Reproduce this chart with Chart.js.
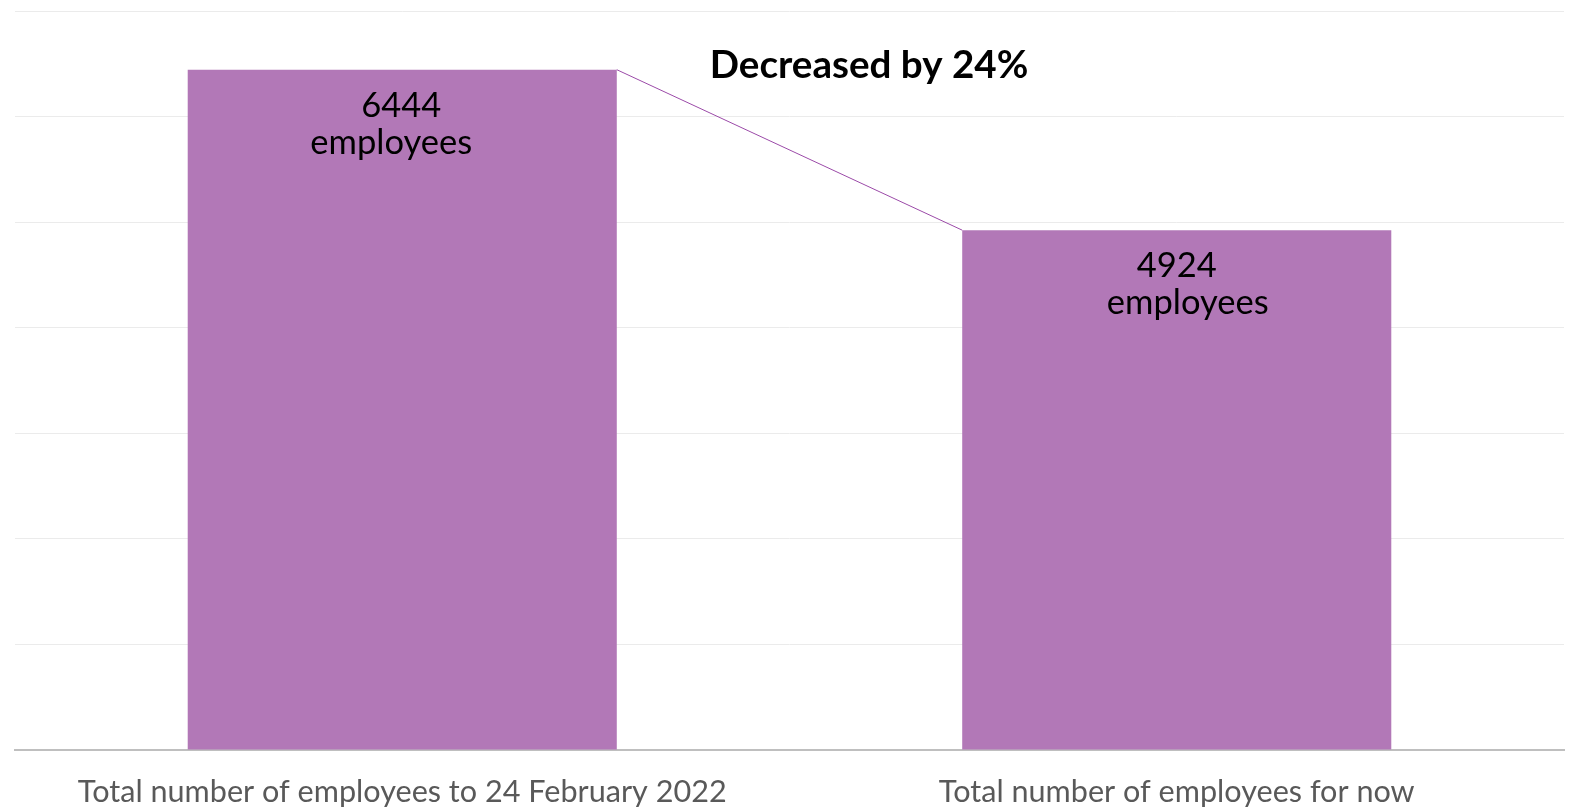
<!DOCTYPE html>
<html>
<head>
<meta charset="utf-8">
<script src="https://cdn.jsdelivr.net/npm/chart.js@4.4.0/dist/chart.umd.min.js"></script>
<style>
  html, body { margin: 0; padding: 0; background: #fff; }
  #wrap { width: 1573px; height: 809px; }
</style>
</head>
<body>
<div id="wrap"><canvas id="chart"></canvas></div>
<script>
const categories = ['Total number of employees to 24 February 2022', 'Total number of employees for now'];
const employees = [6444, 4924];
const valueLabels = ['6444', '4924'];
const unitLabel = 'employees';
const annotationText = 'Decreased by 24%';
const yTicks = [0, 1000, 2000, 3000, 4000, 5000, 6000, 7000];

const FONT = 'Lato, "Open Sans", sans-serif';

// labels inside the bars + connecting line + annotation text
const overlay = {
  id: 'overlay',
  afterDatasetsDraw(chart) {
    const ctx = chart.ctx;
    const bars = chart.getDatasetMeta(0).data;
    const a = bars[0], b = bars[1];

    ctx.save();
    // line from top-right of first bar to top-left of second
    ctx.strokeStyle = '#9b4aa8';
    ctx.lineWidth = 1;
    ctx.beginPath();
    ctx.moveTo(a.x + a.width / 2, a.y);
    ctx.lineTo(b.x - b.width / 2, b.y);
    ctx.stroke();

    ctx.fillStyle = '#000';
    ctx.textAlign = 'center';
    ctx.textBaseline = 'middle';
    ctx.font = '34.5px ' + FONT;
    bars.forEach((bar, i) => {
      ctx.fillText(valueLabels[i], bar.x - (i === 0 ? 1 : 0), bar.y + 36);
      ctx.fillText(unitLabel, bar.x + (i === 0 ? -11 : 11), bar.y + 73);
    });

    ctx.font = 'bold 38.6px ' + FONT;
    ctx.fillText(annotationText, 869, 66);
    ctx.restore();
  }
};

new Chart(document.getElementById('chart'), {
  type: 'bar',
  data: {
    labels: categories,
    datasets: [{
      data: employees,
      backgroundColor: '#b278b7',
      borderWidth: 0,
      categoryPercentage: 1,
      barPercentage: 0.554
    }]
  },
  options: {
    responsive: true,
    maintainAspectRatio: false,
    animation: false,
    layout: { padding: { top: 11, right: 9, left: 0, bottom: 0 } },
    plugins: { legend: { display: false }, tooltip: { enabled: false } },
    scales: {
      x: {
        grid: { display: false },
        border: { color: '#bfbfbf', width: 2 },
        ticks: { color: '#595959', font: { family: FONT, size: 30.6 }, padding: 16, maxRotation: 0 },
        afterFit(scale) { scale.height = 59; }
      },
      y: {
        min: 0,
        max: 7000,
        afterBuildTicks(scale) { scale.ticks = yTicks.map(v => ({ value: v })); },
        ticks: { display: false },
        grid: { color: '#ebebeb', lineWidth: 1, drawTicks: false },
        border: { display: false },
        afterFit(scale) { scale.width = 15; }
      }
    }
  },
  plugins: [overlay]
});
</script>
</body>
</html>
